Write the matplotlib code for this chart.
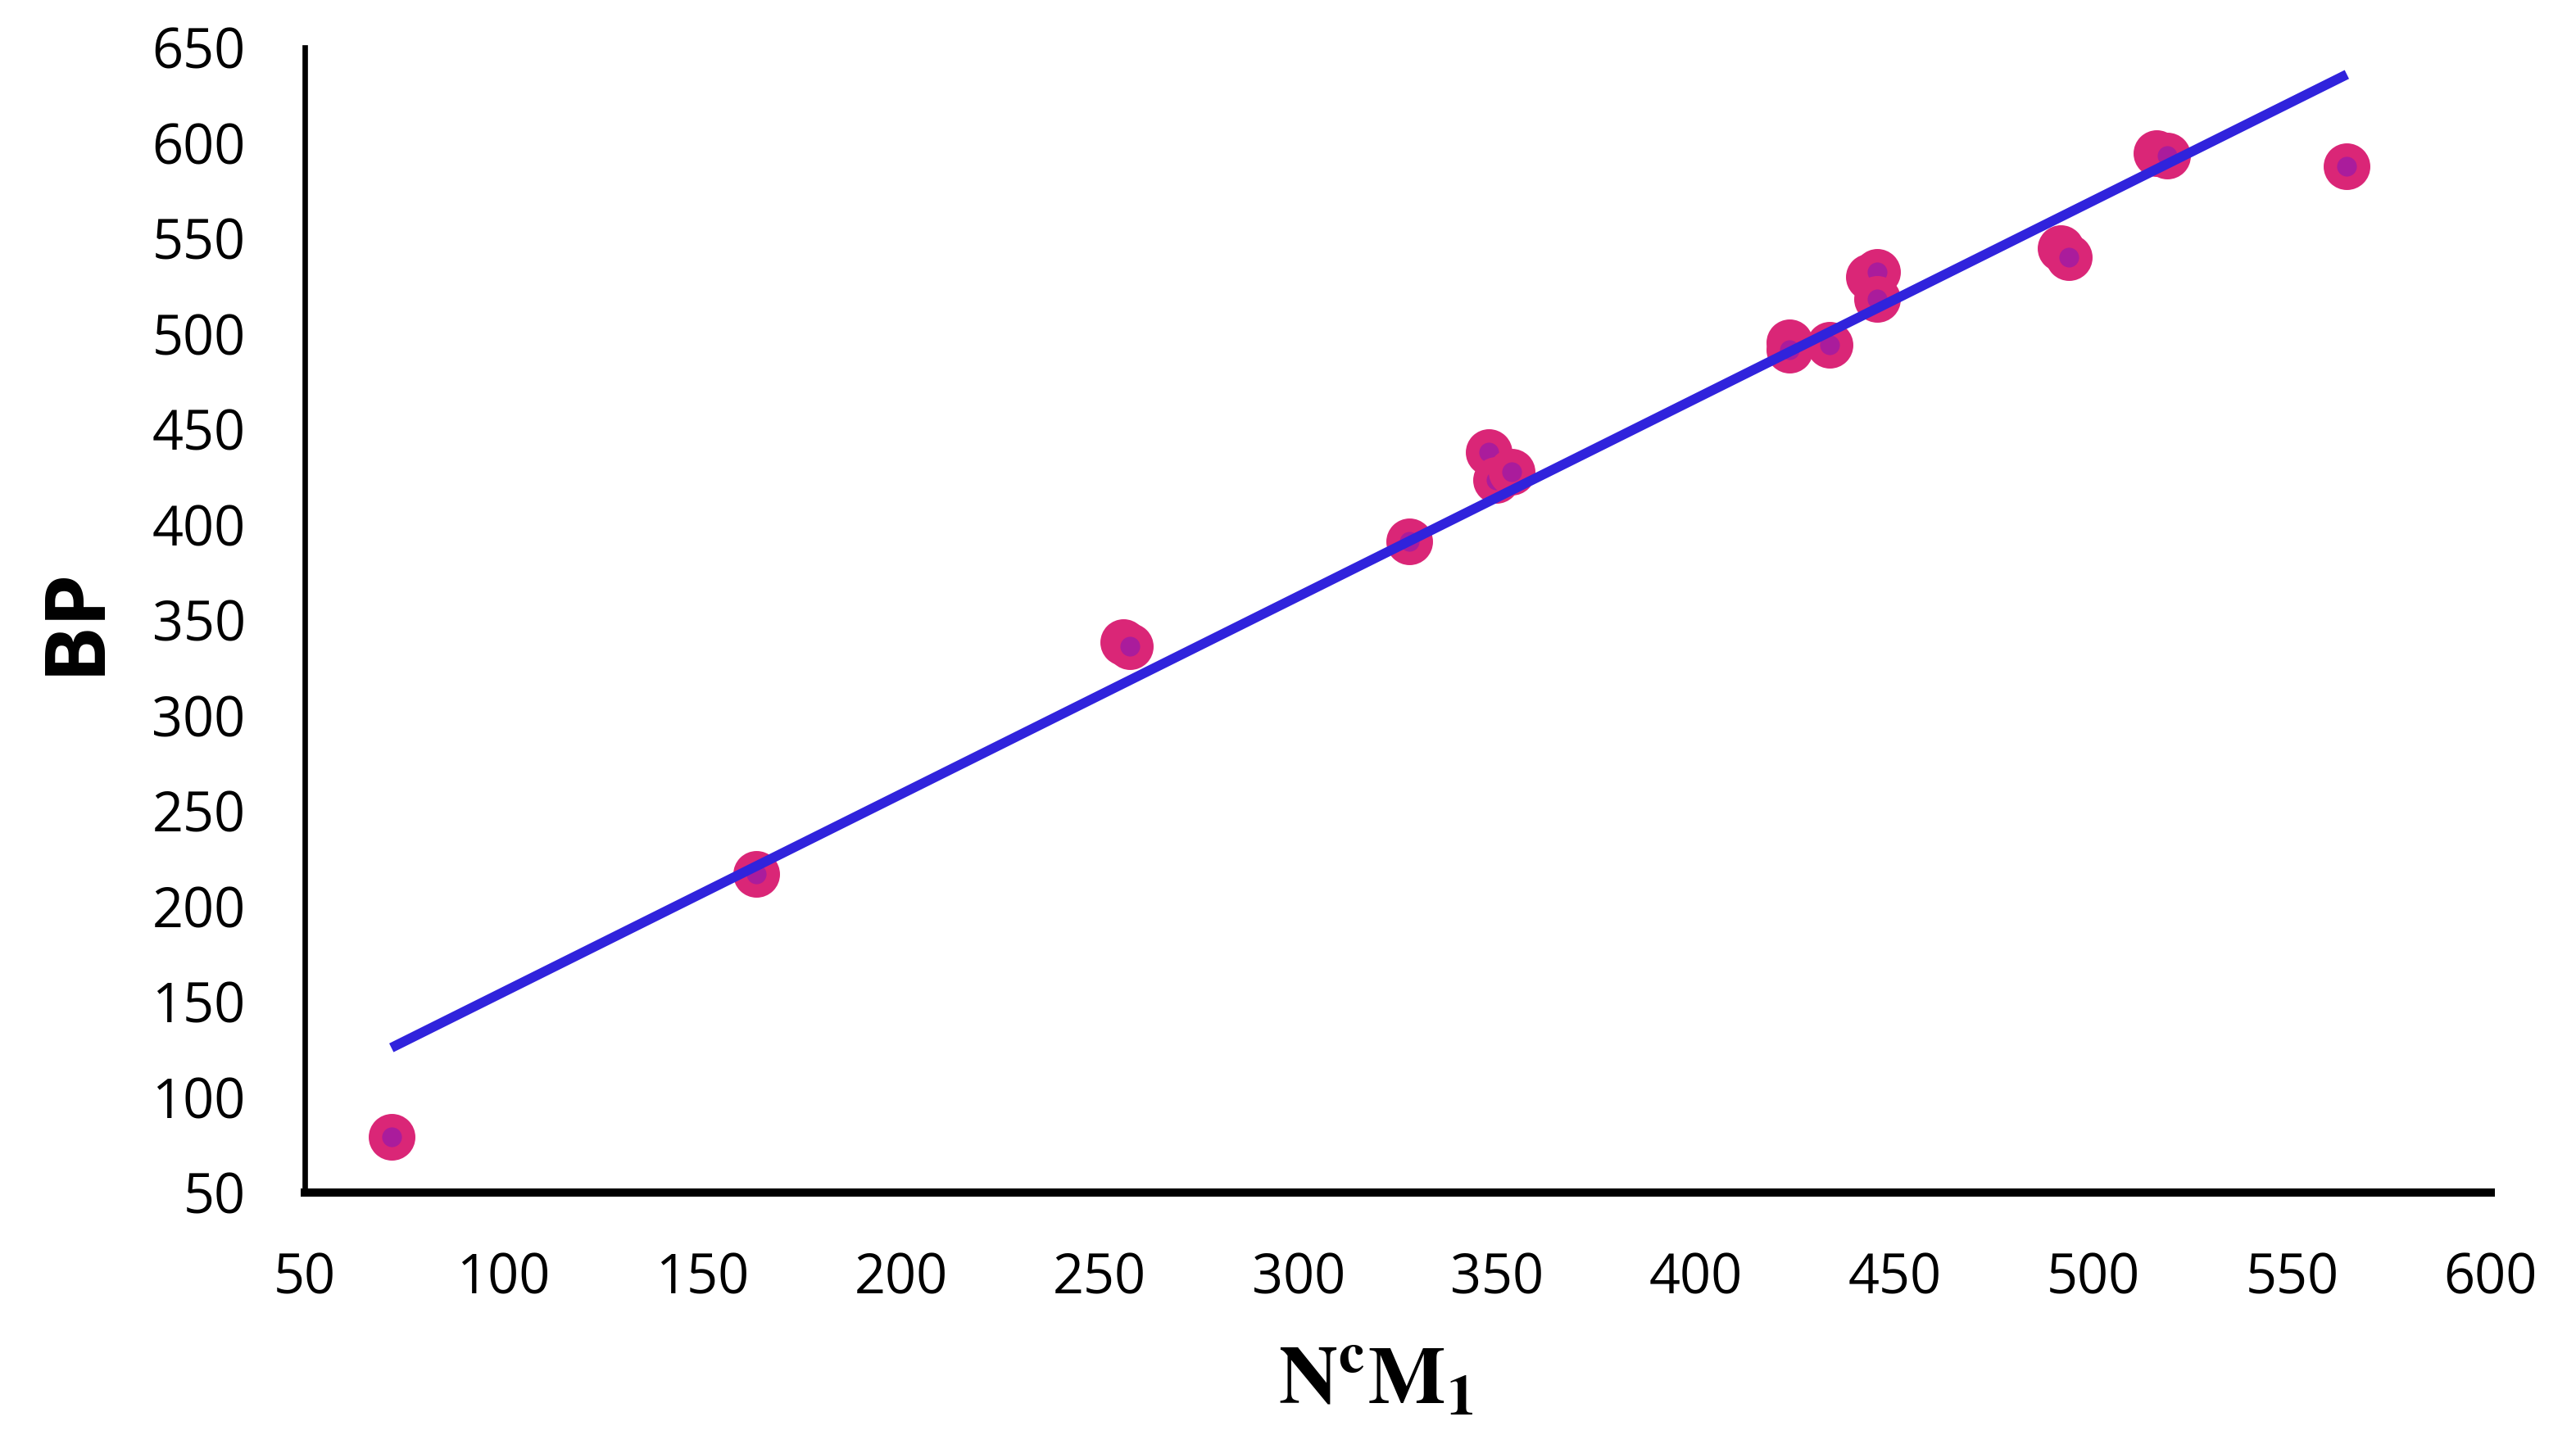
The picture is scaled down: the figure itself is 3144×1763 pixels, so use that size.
import numpy as np
import matplotlib
matplotlib.use("Agg")
import matplotlib.pyplot as plt

# values
ncm1 = [71.8, 163.7, 255.9, 257.7, 327.8, 347.8, 349.7, 353.7, 423.6, 423.6,
        433.7, 443.6, 445.7, 445.7, 491.7, 493.8, 515.9, 518.6, 563.8]
bp = [79.3, 217.0, 338.6, 336.4, 391.3, 438.2, 423.3, 427.5, 495.5, 491.5,
      494.2, 529.9, 532.5, 518.2, 544.8, 540.0, 594.5, 593.2, 587.8]

xticks = list(range(50, 601, 50))
yticks = list(range(50, 651, 50))

plt.rcParams['font.family'] = ['Open Sans', 'DejaVu Sans']
plt.rcParams['mathtext.fontset'] = 'stix'

fig = plt.figure(figsize=(15.72, 8.815), dpi=200)
ax = fig.add_axes([0.1183, 0.1741, 0.8486, 0.7930])

# linear trendline through the points
x = np.array(ncm1)
y = np.array(bp)
k, b = np.polyfit(x, y, 1)
xs = np.array([x.min(), x.max()])

ax.plot(x, y, linestyle='none', marker='o', markersize=14.6,
        markerfacecolor='#AA1C9C', markeredgecolor='#DA2677',
        markeredgewidth=5.9, zorder=2)
ax.plot(xs, k * xs + b, color='#3023DC', linewidth=4.3,
        solid_capstyle='butt', zorder=3)

ax.set_xlim(50, 600)
ax.set_ylim(50, 650)
ax.set_xticks(xticks)
ax.set_yticks(yticks)
ax.tick_params(length=0, labelsize=24, pad=26)

for s in ['top', 'right']:
    ax.spines[s].set_visible(False)
ax.spines['bottom'].set_linewidth(3.6)
ax.spines['left'].set_linewidth(2.4)

ax.set_ylabel('BP', fontsize=37, fontweight='bold')
ax.yaxis.label.set_va('center')
ax.yaxis.set_label_coords(-0.1046, 0.5)

ax.set_xlabel(r'$\mathbf{N^{c}M_{1}}$', fontsize=36)
ax.xaxis.set_label_coords(0.49, -0.13)

fig.savefig('out.png', dpi=200)
